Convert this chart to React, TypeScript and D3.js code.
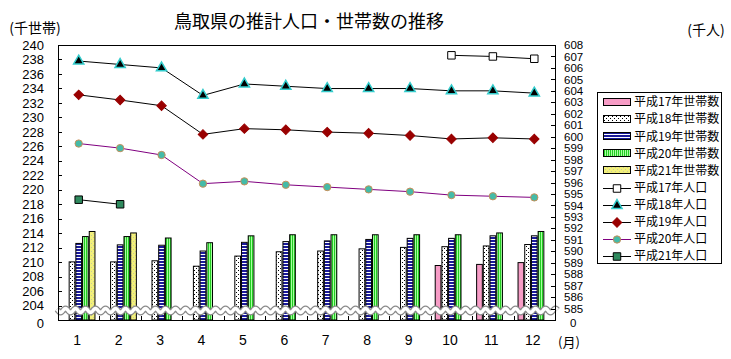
import React, { useRef, useEffect } from "react";
import * as d3 from "d3";

// months on the x axis
const months = ["1", "2", "3", "4", "5", "6", "7", "8", "9", "10", "11", "12"];

// households (千世帯), left axis
const hh17 = [null, null, null, null, null, null, null, null, null, 209.6, 209.75, 210.0];
const hh18 = [210.1, 210.1, 210.25, 209.5, 210.9, 211.5, 211.6, 211.9, 212.1, 212.2, 212.3, 212.5];
const hh19 = [212.65, 212.45, 212.4, 211.6, 212.8, 212.9, 213.0, 213.2, 213.35, 213.35, 213.7, 213.7];
const hh20 = [213.6, 213.6, 213.4, 212.75, 213.7, 213.85, 213.85, 213.85, 213.85, 213.85, 214.1, 214.3];
const hh21 = [214.3, 214.1, null, null, null, null, null, null, null, null, null, null];

// population (千人), right axis
const pop17 = [null, null, null, null, null, null, null, null, null, 607.1, 607.0, 606.8];
const pop18 = [606.6, 606.3, 606.0, 603.6, 604.6, 604.4, 604.2, 604.2, 604.2, 604.0, 604.0, 603.8];
const pop19 = [603.65, 603.2, 602.7, 600.2, 600.7, 600.6, 600.4, 600.3, 600.1, 599.8, 599.9, 599.8];
const pop20 = [599.4, 599.0, 598.4, 595.9, 596.1, 595.8, 595.6, 595.4, 595.2, 594.9, 594.8, 594.7];
const pop21 = [594.5, 594.1, null, null, null, null, null, null, null, null, null, null];

// tick labels
const leftTicks = d3.range(204, 241, 2);
const rightTicks = d3.range(585, 609, 1);

const barNames = ["平成17年世帯数", "平成18年世帯数", "平成19年世帯数", "平成20年世帯数", "平成21年世帯数"];
const lineNames = ["平成17年人口", "平成18年人口", "平成19年人口", "平成20年人口", "平成21年人口"];

const JP = "'Noto Sans CJK JP', sans-serif";
const NUM = "'Liberation Sans', Arial, sans-serif";

export default function App() {
  const ref = useRef<SVGSVGElement>(null);

  useEffect(() => {
    const width = 731;
    const height = 359;
    const left = 58, right = 555, top = 45, bottom = 320;

    const svg = d3.select(ref.current);
    svg.selectAll("*").remove();
    svg.attr("width", width).attr("height", height);

    svg.append("rect").attr("width", width).attr("height", height).attr("fill", "#fff");

    // patterns
    const defs = svg.append("defs");
    const p18 = defs.append("pattern").attr("id", "p18").attr("patternUnits", "userSpaceOnUse")
      .attr("width", 4).attr("height", 4);
    p18.append("rect").attr("width", 4).attr("height", 4).attr("fill", "#fff");
    p18.append("rect").attr("x", 0).attr("y", 0).attr("width", 1).attr("height", 1).attr("fill", "#000");
    p18.append("rect").attr("x", 2).attr("y", 2).attr("width", 1).attr("height", 1).attr("fill", "#000");

    const p19 = defs.append("pattern").attr("id", "p19").attr("patternUnits", "userSpaceOnUse")
      .attr("width", 4).attr("height", 3);
    p19.append("rect").attr("width", 4).attr("height", 3).attr("fill", "#fff");
    p19.append("rect").attr("width", 4).attr("height", 2).attr("fill", "#1a1a9a");

    const p20 = defs.append("pattern").attr("id", "p20").attr("patternUnits", "userSpaceOnUse")
      .attr("width", 2).attr("height", 4);
    p20.append("rect").attr("width", 2).attr("height", 4).attr("fill", "#a8ffa0");
    p20.append("rect").attr("width", 1).attr("height", 4).attr("fill", "#22cc22");

    const p21 = defs.append("pattern").attr("id", "p21").attr("patternUnits", "userSpaceOnUse")
      .attr("width", 4).attr("height", 4);
    p21.append("rect").attr("width", 4).attr("height", 4).attr("fill", "#f2f07a");
    p21.append("rect").attr("x", 1).attr("y", 1).attr("width", 1).attr("height", 1).attr("fill", "#c8c8a0");
    p21.append("rect").attr("x", 3).attr("y", 3).attr("width", 1).attr("height", 1).attr("fill", "#c8c8a0");

    const barFills = ["#f79cc6", "url(#p18)", "url(#p19)", "url(#p20)", "url(#p21)"];
    const barSeries = [hh17, hh18, hh19, hh20, hh21];

    const x = d3.scaleBand().domain(months).range([left, right]);
    const bw = x.bandwidth();
    const inner = d3.scaleBand().domain(barNames).range([bw / 2 - 16.75, bw / 2 + 16.75]);
    const yL = d3.scaleLinear().domain([202, 240]).range([bottom, top]);
    const yR = d3.scaleLinear().domain([584, 608]).range([bottom, top]);

    // bars
    barSeries.forEach((vals, si) => {
      svg.append("g").selectAll("rect")
        .data(vals.map((v, i) => ({ v, m: months[i] })).filter(d => d.v != null))
        .enter()
        .append("rect")
        .attr("x", d => (x(d.m) as number) + (inner(barNames[si]) as number) + 0.5)
        .attr("y", d => yL(d.v as number) + 0.5)
        .attr("width", inner.bandwidth() - 1)
        .attr("height", d => bottom - yL(d.v as number) - 0.5)
        .attr("fill", barFills[si])
        .attr("stroke", "#000")
        .attr("stroke-width", 1);
    });

    // axis break wave
    const wave = d3.range(left - 1, right + 3, 0.5).map(px => [px, 310.5 + 2 * Math.sin((px - left) / 10 * 2 * Math.PI)] as [number, number]);
    const waveLine = d3.line();
    svg.append("path").attr("d", waveLine(wave)).attr("fill", "none").attr("stroke", "#8a8a8a").attr("stroke-width", 6);
    svg.append("path").attr("d", waveLine(wave)).attr("fill", "none").attr("stroke", "#fff").attr("stroke-width", 3.5);

    // frame
    svg.append("rect").attr("x", left + 0.5).attr("y", top + 0.5)
      .attr("width", right - left).attr("height", bottom - top)
      .attr("fill", "none").attr("stroke", "#000");

    // left ticks
    const gl = svg.append("g");
    leftTicks.forEach(t => {
      gl.append("line").attr("x1", left).attr("x2", left + 4)
        .attr("y1", Math.round(yL(t)) + 0.5).attr("y2", Math.round(yL(t)) + 0.5).attr("stroke", "#000");
      gl.append("text").attr("x", 44).attr("y", yL(t)).attr("dy", "0.36em")
        .attr("text-anchor", "end").attr("font-family", NUM).attr("font-size", 13).text(t);
    });
    gl.append("text").attr("x", 44).attr("y", yL(202) + 3).attr("dy", "0.36em")
      .attr("text-anchor", "end").attr("font-family", NUM).attr("font-size", 13).text("0");

    // right ticks
    const gr = svg.append("g");
    rightTicks.forEach(t => {
      gr.append("line").attr("x1", right - 4).attr("x2", right + 1)
        .attr("y1", Math.round(yR(t)) + 0.5).attr("y2", Math.round(yR(t)) + 0.5).attr("stroke", "#000");
      gr.append("text").attr("x", 564).attr("y", yR(t)).attr("dy", "0.36em")
        .attr("font-family", NUM).attr("font-size", 11.5).text(t);
    });
    gr.append("text").attr("x", 570).attr("y", yR(584) + 3).attr("dy", "0.36em")
      .attr("font-family", NUM).attr("font-size", 11.5).text("0");

    // bottom ticks and labels
    months.forEach((m, i) => {
      if (i > 0) {
        const bx = Math.round(x(m) as number) + 0.5;
        svg.append("line").attr("x1", bx).attr("x2", bx).attr("y1", bottom - 4).attr("y2", bottom).attr("stroke", "#000");
      }
      svg.append("text").attr("x", (x(m) as number) + bw / 2 - 1.5).attr("y", 340).attr("dy", "0.36em")
        .attr("text-anchor", "middle").attr("font-family", NUM).attr("font-size", 14).text(m);
    });

    // lines and markers
    const lineStyles = [
      { stroke: "#000", shape: "square", fill: "#fff", mstroke: "#000" },
      { stroke: "#000", shape: "triangle", fill: "#000", mstroke: "#33cccc" },
      { stroke: "#000", shape: "diamond", fill: "#990000", mstroke: "#990000" },
      { stroke: "#800080", shape: "circle", fill: "#44bba8", mstroke: "#c8905a" },
      { stroke: "#000", shape: "square", fill: "#2f8a5e", mstroke: "#000" },
    ];
    const symbolFor = (shape: string) => {
      if (shape === "triangle") return d3.symbol().type(d3.symbolTriangle).size(45)();
      if (shape === "diamond") return d3.symbol().type(d3.symbolSquare).size(45)();
      if (shape === "circle") return d3.symbol().type(d3.symbolCircle).size(42)();
      return d3.symbol().type(d3.symbolSquare).size(56)();
    };
    const drawMarker = (g: any, st: any, cx: number, cy: number) => {
      g.append("path").attr("d", symbolFor(st.shape))
        .attr("transform", `translate(${cx},${cy})${st.shape === "diamond" ? " rotate(45)" : ""}`)
        .attr("fill", st.fill).attr("stroke", st.mstroke).attr("stroke-width", st.shape === "triangle" ? 1.5 : 1);
    };

    const popSeries = [pop17, pop18, pop19, pop20, pop21];
    popSeries.forEach((vals, si) => {
      const st = lineStyles[si];
      const pts = vals.map((v, i) => ({ v, m: months[i] })).filter(d => d.v != null);
      const line = d3.line<any>()
        .x(d => (x(d.m) as number) + bw / 2)
        .y(d => yR(d.v));
      const g = svg.append("g");
      g.append("path").attr("d", line(pts)).attr("fill", "none").attr("stroke", st.stroke).attr("stroke-width", 1);
      pts.forEach(d => drawMarker(g, st, (x(d.m) as number) + bw / 2, yR(d.v as number)));
    });

    // title and units
    svg.append("text").attr("x", 309).attr("y", 22).attr("dy", "0.36em").attr("text-anchor", "middle")
      .attr("font-family", JP).attr("font-size", 18).text("鳥取県の推計人口・世帯数の推移");
    svg.append("text").attr("x", 35).attr("y", 28).attr("dy", "0.36em").attr("text-anchor", "middle")
      .attr("font-family", JP).attr("font-size", 14).text("(千世帯)");
    svg.append("text").attr("x", 706).attr("y", 30).attr("dy", "0.36em").attr("text-anchor", "middle")
      .attr("font-family", JP).attr("font-size", 14).text("(千人)");
    svg.append("text").attr("x", 569).attr("y", 342).attr("dy", "0.36em").attr("text-anchor", "middle")
      .attr("font-family", JP).attr("font-size", 13).text("(月)");

    // legend
    const lg = svg.append("g");
    lg.append("rect").attr("x", 597.5).attr("y", 92.5).attr("width", 124).attr("height", 171)
      .attr("fill", "#fff").attr("stroke", "#000");
    const rowY = d3.scalePoint().domain([...barNames, ...lineNames]).range([102, 256]);
    barNames.forEach((n, i) => {
      const yy = rowY(n) as number;
      lg.append("rect").attr("x", 603.5).attr("y", Math.round(yy - 4) + 0.5).attr("width", 27).attr("height", 7)
        .attr("fill", barFills[i]).attr("stroke", "#000");
      lg.append("text").attr("x", 634).attr("y", yy).attr("dy", "0.36em")
        .attr("font-family", JP).attr("font-size", 12).text(n);
    });
    lineNames.forEach((n, i) => {
      const yy = rowY(n) as number;
      const st = lineStyles[i];
      lg.append("line").attr("x1", 603).attr("x2", 631).attr("y1", Math.round(yy) + 0.5).attr("y2", Math.round(yy) + 0.5)
        .attr("stroke", st.stroke);
      drawMarker(lg, st, 617, Math.round(yy) + 0.5);
      lg.append("text").attr("x", 634).attr("y", yy).attr("dy", "0.36em")
        .attr("font-family", JP).attr("font-size", 12).text(n);
    });
  }, []);

  return <svg ref={ref} style={{ position: "absolute", left: 0, top: 0 }}></svg>;
}
